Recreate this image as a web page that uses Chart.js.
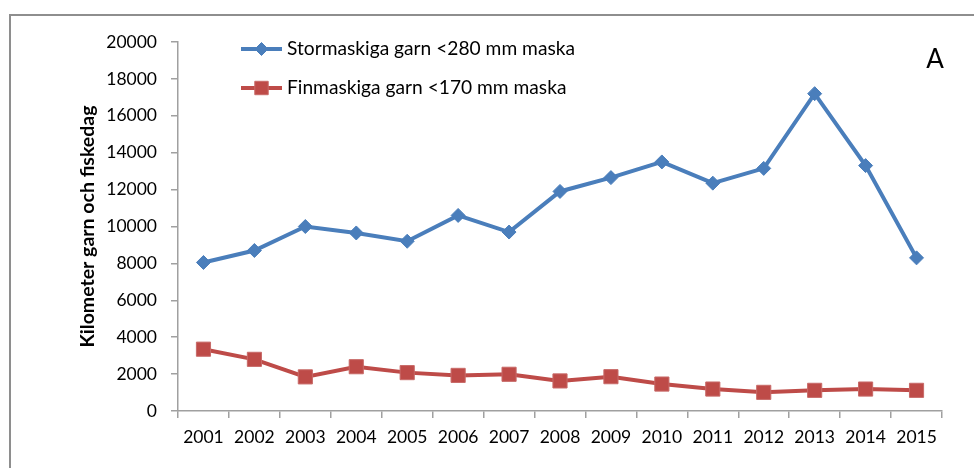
<!DOCTYPE html>
<html>
<head>
<meta charset="utf-8">
<script src="https://cdn.jsdelivr.net/npm/chart.js@4.4.1/dist/chart.umd.min.js"></script>
<style>
  html, body { margin: 0; padding: 0; background: #ffffff; overflow: hidden; }
  #wrap { position: relative; width: 974px; height: 468px; }
</style>
</head>
<body>
<div id="wrap"><canvas id="c" width="974" height="468"></canvas></div>
<script>
const years = ['2001','2002','2003','2004','2005','2006','2007','2008','2009','2010','2011','2012','2013','2014','2015'];
const stormaskiga = [8050, 8700, 10000, 9650, 9200, 10600, 9700, 11900, 12650, 13500, 12350, 13150, 17200, 13300, 8300];
const finmaskiga = [3350, 2800, 1850, 2400, 2080, 1930, 1990, 1630, 1860, 1460, 1190, 1010, 1120, 1190, 1120];
const yTickValues = [0, 2000, 4000, 6000, 8000, 10000, 12000, 14000, 16000, 18000, 20000];
const seriesNames = ['Stormaskiga garn <280 mm maska', 'Finmaskiga garn <170 mm maska'];
const yAxisTitle = 'Kilometer garn och fiskedag';
const panelLabel = 'A';

const BLUE = '#4a7ebb';
const RED = '#be4b48';
const FONT = 'Lato, "Open Sans", sans-serif';

const framePlugin = {
  id: 'frame',
  beforeDraw(chart) {
    const ctx = chart.ctx;
    ctx.save();
    ctx.strokeStyle = '#8e8e8e';
    ctx.lineWidth = 2;
    ctx.strokeRect(10, 15, 1100, 600);
    ctx.restore();
  }
};

const legendPlugin = {
  id: 'customLegend',
  afterDraw(chart) {
    const ctx = chart.ctx;
    const a = chart.chartArea;
    const x0 = a.left + 63, x1 = a.left + 104, tx = a.left + 109;
    const rows = [a.top + 7, a.top + 46];
    chart.data.datasets.forEach((ds, i) => {
      const y = rows[i];
      ctx.save();
      ctx.strokeStyle = ds.borderColor;
      ctx.lineWidth = ds.borderWidth;
      ctx.beginPath(); ctx.moveTo(x0, y); ctx.lineTo(x1, y); ctx.stroke();
      ctx.fillStyle = ds.pointBackgroundColor;
      ctx.strokeStyle = ds.pointBorderColor;
      ctx.lineWidth = 1;
      Chart.helpers.drawPoint(ctx, {pointStyle: ds.pointStyle, radius: ds.pointRadius - 0.5, borderWidth: 1, rotation: 0}, (x0 + x1) / 2, y);
      ctx.fillStyle = '#000000';
      ctx.font = '19.2px ' + FONT;
      ctx.textBaseline = 'middle';
      ctx.textAlign = 'left';
      ctx.fillText(ds.label, tx, y);
      ctx.restore();
    });
    ctx.save();
    ctx.fillStyle = '#000000';
    ctx.font = '26px ' + FONT;
    ctx.textAlign = 'center';
    ctx.textBaseline = 'middle';
    ctx.fillText(panelLabel, a.right - 7, a.top + 18);
    ctx.restore();
  }
};

new Chart(document.getElementById('c'), {
  type: 'line',
  data: {
    labels: years,
    datasets: [
      {
        label: seriesNames[0],
        data: stormaskiga,
        borderColor: BLUE,
        backgroundColor: BLUE,
        pointBackgroundColor: BLUE,
        pointBorderColor: BLUE,
        borderWidth: 4,
        pointStyle: 'rectRot',
        pointRadius: 7,
        pointBorderWidth: 1,
        tension: 0
      },
      {
        label: seriesNames[1],
        data: finmaskiga,
        borderColor: RED,
        backgroundColor: RED,
        pointBackgroundColor: RED,
        pointBorderColor: '#c86a68',
        borderWidth: 4,
        pointStyle: 'rect',
        pointRadius: 10,
        pointBorderWidth: 1,
        tension: 0
      }
    ]
  },
  options: {
    responsive: false,
    animation: false,
    events: [],
    layout: { padding: { top: 42, right: 32, left: 0, bottom: 0 } },
    plugins: {
      legend: { display: false },
      title: { display: false },
      tooltip: { enabled: false }
    },
    scales: {
      x: {
        offset: true,
        grid: { offset: true, drawOnChartArea: false, drawTicks: true, tickLength: 7, color: '#a0a0a0', lineWidth: 1.5 },
        border: { display: true, color: '#a0a0a0', width: 1.5 },
        ticks: { color: '#000000', font: { family: FONT, size: 17.5 }, padding: 9, maxRotation: 0, autoSkip: false },
        afterFit(s) { s.height = 57; }
      },
      y: {
        min: 0,
        max: 20000,
        afterBuildTicks(s) { s.ticks = yTickValues.map(v => ({ value: v })); },
        grid: { drawOnChartArea: false, drawTicks: true, tickLength: 7, color: '#a0a0a0', lineWidth: 1.5 },
        border: { display: true, color: '#a0a0a0', width: 1.5 },
        ticks: { color: '#000000', font: { family: FONT, size: 17.5 }, padding: 14, callback: v => String(v) },
        title: { display: true, text: yAxisTitle, color: '#000000', font: { family: FONT, size: 19.5, weight: 'bold' }, padding: { top: 76, bottom: 0 } },
        afterFit(s) { s.width = 178; }
      }
    }
  },
  plugins: [framePlugin, legendPlugin]
});
</script>
</body>
</html>
